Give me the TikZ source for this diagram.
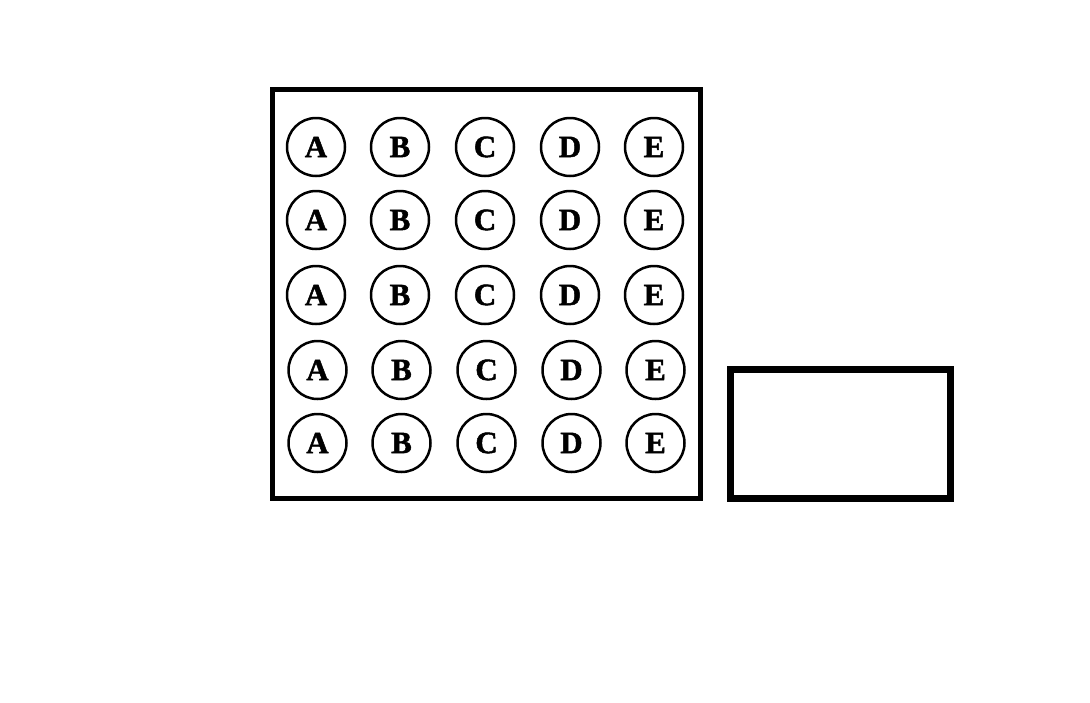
\documentclass[tikz,border=0pt]{standalone}
\usepackage{fontspec}
\setmainfont{Liberation Serif}
\newfontfamily\heavyfont{Liberation Serif}[BoldFeatures={FakeBold=1.6}]
\begin{document}
\begin{tikzpicture}[x=1pt,y=-1pt,
  letter/.style={circle,draw,line width=2.5pt,minimum size=58pt,inner sep=0pt,font=\heavyfont\bfseries\fontsize{31}{31}\selectfont},
  frame/.style={draw,line width=5pt}]
\useasboundingbox (0,0) rectangle (1090,702);
\node[frame,minimum width=428pt,minimum height=408.5pt,inner sep=0pt] (big) at (486,293.75) {};
\node[draw,line width=7pt,minimum width=220pt,minimum height=129pt,inner sep=0pt] (small) at (840,434) {};
\foreach \y/\dx [count=\r] in {147/0,220/0,295/0,370/1.5,443/1.5}{
  \foreach \x/\l in {316/A,400/B,485/C,570/D,654/E}{
    \node[letter] (\l\r) at (\x+\dx,\y) {\l};
  }
}
\end{tikzpicture}
\end{document}
